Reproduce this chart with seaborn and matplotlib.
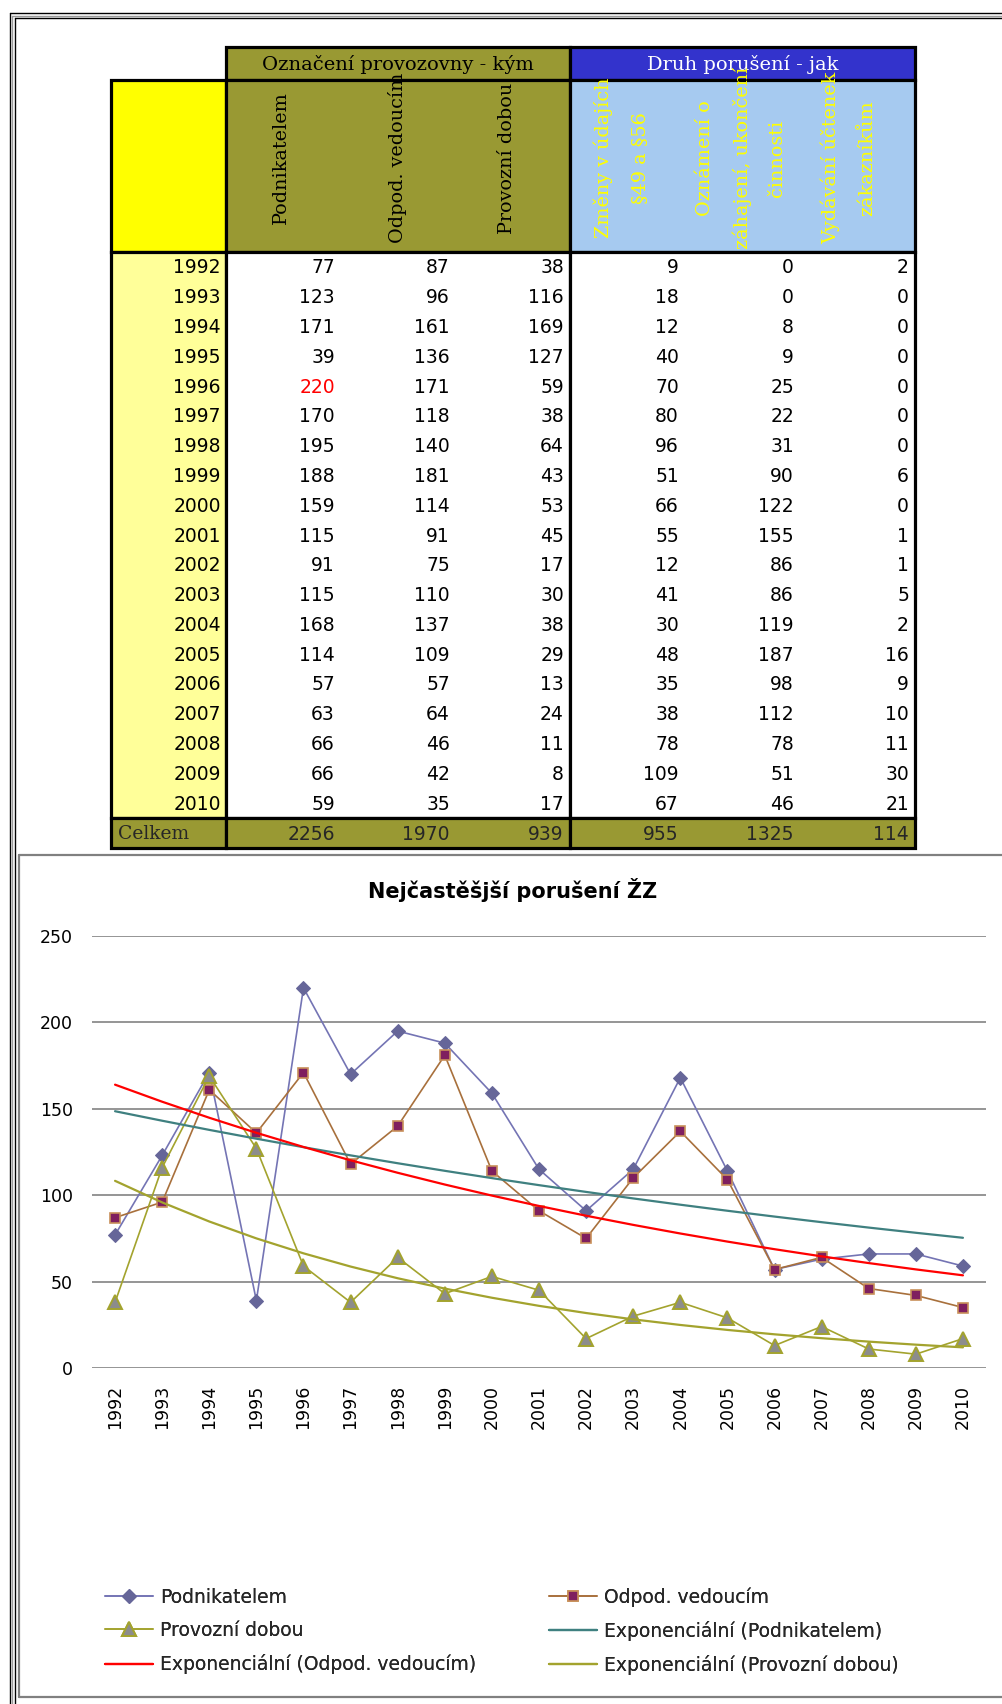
import numpy as np
import pandas as pd
import matplotlib
matplotlib.use("Agg")
import matplotlib.pyplot as plt
import seaborn as sns
from matplotlib.patches import Rectangle
from matplotlib.lines import Line2D

# ---------------- data ----------------
years = list(range(1992, 2011))
podnikatelem = [77, 123, 171, 39, 220, 170, 195, 188, 159, 115, 91, 115, 168, 114, 57, 63, 66, 66, 59]
odpod_vedoucim = [87, 96, 161, 136, 171, 118, 140, 181, 114, 91, 75, 110, 137, 109, 57, 64, 46, 42, 35]
provozni_dobou = [38, 116, 169, 127, 59, 38, 64, 43, 53, 45, 17, 30, 38, 29, 13, 24, 11, 8, 17]
zmeny_udaju = [9, 18, 12, 40, 70, 80, 96, 51, 66, 55, 12, 41, 30, 48, 35, 38, 78, 109, 67]
oznameni = [0, 0, 8, 9, 25, 22, 31, 90, 122, 155, 86, 86, 119, 187, 98, 112, 78, 51, 46]
vydavani = [2, 0, 0, 0, 0, 0, 0, 6, 0, 1, 1, 5, 2, 16, 9, 10, 11, 30, 21]
totals = [2256, 1970, 939, 955, 1325, 114]
total_label = "Celkem"

group_headers = ["Označení provozovny - kým", "Druh porušení - jak"]
col_headers = [["Podnikatelem"], ["Odpod. vedoucím"], ["Provozní dobou"],
               ["Změny v údajích", "§49 a §56"],
               ["Oznámení o", "záhajení, ukončení", "činnosti"],
               ["Vydávání účtenek", "zákazníkům"]]
chart_title = "Nejčastěšjší porušení ŽZ"
series_names = ["Podnikatelem", "Odpod. vedoucím", "Provozní dobou"]
trend_names = ["Exponenciální (Podnikatelem)", "Exponenciální (Odpod. vedoucím)",
               "Exponenciální (Provozní dobou)"]
yticks = [0, 50, 100, 150, 200, 250]

# ---------------- style ----------------
sns.set_theme(style="white")
plt.rcParams['font.family'] = ['DejaVu Sans']

OLIVE = '#999933'
BLUE = '#3333CC'
LBLUE = '#A6CAF0'
YEL = '#FFFF00'
LYEL = '#FFFF99'

W, H = 1003, 1704
fig = plt.figure(figsize=(W / 100, H / 100), dpi=100)
fig.patch.set_facecolor('white')
bg = fig.add_axes([0, 0, 1, 1])
bg.set_xlim(0, W)
bg.set_ylim(H, 0)
bg.axis('off')

# outer double frame
for x, c in [(10, 'black'), (12.5, '#9a9a9a'), (15, 'black')]:
    bg.add_line(Line2D([x, x], [x + 3, H], color=c, lw=1.0))
    bg.add_line(Line2D([x, W], [x + 3, x + 3], color=c, lw=1.0))

# chart frame
for xs, ys in [([19, 19], [855, 1697]), ([19, W], [855, 855]), ([19, W], [1697, 1697])]:
    bg.add_line(Line2D(xs, ys, color='#808080', lw=1.6))

# ---------------- table ----------------
xe = [111, 226, 341, 456, 570, 685, 800, 915]
y_g0, y_g1, y_h1 = 47, 80, 252
y_d1, y_c1 = 818, 848
nrows = len(years)
rh = (y_d1 - y_h1) / nrows
BLW = 2.3


def cell(x0, y0, x1, y1, fc, lw=BLW):
    r = Rectangle((x0, y0), x1 - x0, y1 - y0, facecolor=fc, edgecolor='black', lw=lw, zorder=2)
    bg.add_patch(r)
    return r


cell(xe[1], y_g0, xe[4], y_g1, OLIVE)
cell(xe[4], y_g0, xe[7], y_g1, BLUE)
cell(xe[0], y_g1, xe[1], y_h1, YEL)
cell(xe[1], y_g1, xe[4], y_h1, OLIVE)
cell(xe[4], y_g1, xe[7], y_h1, LBLUE)
cell(xe[0], y_h1, xe[1], y_d1, LYEL)
cell(xe[1], y_h1, xe[4], y_d1, 'white')
cell(xe[4], y_h1, xe[7], y_d1, 'white')
cell(xe[0], y_d1, xe[1], y_c1, OLIVE)
cell(xe[1], y_d1, xe[4], y_c1, OLIVE)
cell(xe[4], y_d1, xe[7], y_c1, OLIVE)

serif = 'DejaVu Serif'
bg.text((xe[1] + xe[4]) / 2, (y_g0 + y_g1) / 2 + 1, group_headers[0], ha='center', va='center',
        family=serif, fontsize=14, color='black', zorder=3)
bg.text((xe[4] + xe[7]) / 2, (y_g0 + y_g1) / 2 + 1, group_headers[1], ha='center', va='center',
        family=serif, fontsize=14, color='white', zorder=3)

# rotated column headers (line x positions in each column)
line_offsets = [[-3], [-1], [-6], [-24, 13], [-37, 0, 35], [-27, 10]]
for j, lines in enumerate(col_headers):
    x0, x1 = xe[j + 1], xe[j + 2]
    cx = (x0 + x1) / 2
    clip = Rectangle((x0 + 2, y_g1 + 2), x1 - x0 - 4, y_h1 - y_g1 - 4, transform=bg.transData)
    col = 'black' if j < 3 else YEL
    for k, txt in enumerate(lines):
        t = bg.text(cx + line_offsets[j][k], 158, txt, rotation=90, ha='center', va='center',
                    family=serif, fontsize=13.8, color=col, zorder=3)
        t.set_clip_path(clip)

cols = [podnikatelem, odpod_vedoucim, provozni_dobou, zmeny_udaju, oznameni, vydavani]
num_fs = 13.5
for i, yr in enumerate(years):
    yc = y_h1 + (i + 0.5) * rh + 1
    bg.text(xe[1] - 5, yc, str(yr), ha='right', va='center', fontsize=num_fs, color='black', zorder=3)
    for j, c in enumerate(cols):
        color = 'red' if (j == 0 and c[i] == max(c)) else 'black'
        bg.text(xe[j + 2] - 6, yc, str(c[i]), ha='right', va='center', fontsize=num_fs,
                color=color, zorder=3)
yc = (y_d1 + y_c1) / 2 + 1
bg.text(xe[0] + 7, yc, total_label, ha='left', va='center', family=serif, fontsize=13.5, zorder=3)
for j, v in enumerate(totals):
    bg.text(xe[j + 2] - 6, yc, str(v), ha='right', va='center', fontsize=num_fs, zorder=3)

# ---------------- chart ----------------
axl, axr, axt, axb = 91.5, 986.5, 936, 1368
ax = fig.add_axes([axl / W, 1 - axb / H, (axr - axl) / W, (axb - axt) / H])
ax.set_facecolor('none')

series = [
    (podnikatelem, dict(color='#7474B4', marker='D', markersize=7.0, markerfacecolor='#666699',
                        markeredgecolor='#666699')),
    (odpod_vedoucim, dict(color='#A8703C', marker='s', markersize=7.6, markerfacecolor='#7F1F5F',
                          markeredgecolor='#C8905A', markeredgewidth=1.2)),
    (provozni_dobou, dict(color='#A3A32E', marker='^', markersize=9.5, markerfacecolor='#8C8C8C',
                          markeredgecolor='#A3A32E', markeredgewidth=1.4)),
]
for (vals, kw), name in zip(series, series_names):
    sns.lineplot(x=years, y=vals, ax=ax, linewidth=1.2, label=name, zorder=3, **kw)

trend_colors = ['#3F8080', '#FF0000', '#A3A32E']
idx = np.arange(1, len(years) + 1)
for (vals, _), name, c in zip(series, trend_names, trend_colors):
    b, a = np.polyfit(idx, np.log(np.array(vals, dtype=float)), 1)
    fit = np.exp(a + b * idx)
    sns.lineplot(x=years, y=fit, ax=ax, color=c, linewidth=1.6, label=name, zorder=4)

ax.set_xlim(years[0] - 0.5, years[-1] + 0.5)
ax.set_ylim(0, 250)
ax.set_yticks(yticks)
ax.set_xticks(years)
ax.set_xticklabels([str(y) for y in years], rotation=90, fontsize=12.5, color='black')
ax.set_yticklabels([str(v) for v in yticks], fontsize=12.5, color='black')
ax.tick_params(axis='y', length=0, pad=13.3)
ax.tick_params(axis='x', length=0, pad=12.2)
ax.yaxis.grid(True, color='#8c8c8c', lw=1.3)
ax.xaxis.grid(False)
ax.set_axisbelow(True)
for s in ax.spines.values():
    s.set_visible(False)
ax.set_xlabel('')
ax.set_ylabel('')

fig.text(513 / W, 1 - 890 / H, chart_title, ha='center', va='center', fontsize=15,
         fontweight='bold', color='black')

handles, labels = ax.get_legend_handles_labels()
if ax.get_legend():
    ax.get_legend().remove()
hmap = dict(zip(labels, handles))
col1 = [series_names[0], series_names[2], trend_names[1]]
col2 = [series_names[1], trend_names[0], trend_names[2]]
legend_fs = 13.5
fs_px = legend_fs * 100 / 72
for names, x0 in [(col1, 105), (col2, 549)]:
    leg = fig.legend([hmap[n] for n in names], names, loc='center left',
                     bbox_to_anchor=(x0 / W, 1 - 1631 / H), frameon=False,
                     prop=dict(family=['DejaVu Sans'], size=legend_fs),
                     handlelength=48 / fs_px, handletextpad=7 / fs_px,
                     borderpad=0, borderaxespad=0, labelspacing=(36 - 1.17 * fs_px) / fs_px,
                     numpoints=1)
    fig.add_artist(leg)

fig.savefig('out.png', dpi=100)
